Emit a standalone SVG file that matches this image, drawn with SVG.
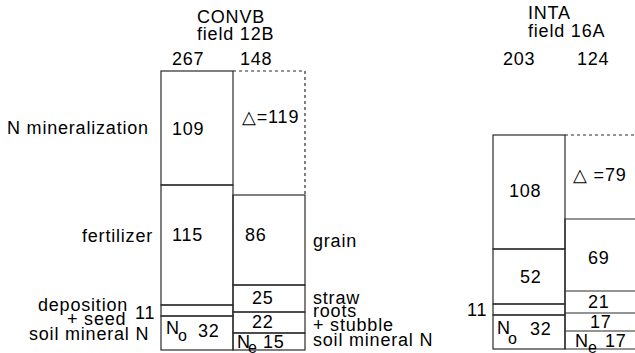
<svg xmlns="http://www.w3.org/2000/svg" width="635" height="353" viewBox="0 0 635 353">
<style>
text{font-family:"Liberation Sans",Arial,sans-serif;font-size:18px;letter-spacing:0.8px;fill:#000}
.sub{font-size:16px}
.box{fill:none;stroke:#2a2a2a;stroke-width:1.2}
.dash{fill:none;stroke:#2a2a2a;stroke-width:1.2;stroke-dasharray:3 3}
</style>
<rect width="635" height="353" fill="#fff"/>
<g id="labels-convb">
<text x="197" y="23">CONVB</text>
<text x="197" y="40">field 12B</text>
<text x="172" y="65">267</text>
<text x="240" y="65">148</text>
<text x="7" y="134">N mineralization</text>
<text x="82" y="242">fertilizer</text>
<text x="38" y="311">deposition</text>
<text x="67" y="325">+ seed</text>
<text x="29" y="340">soil mineral N</text>
<text x="135" y="319">11</text>
<text x="313" y="247">grain</text>
<text x="313" y="304">straw</text>
<text x="313" y="317">roots</text>
<text x="313" y="331">+ stubble</text>
<text x="313" y="346">soil mineral N</text>
</g>
<g id="convb-mineralization"><rect class="box" x="161" y="71" width="72" height="114"/><text x="172" y="135">109</text></g>
<g id="convb-fertilizer"><rect class="box" x="161" y="185" width="72" height="120"/><text x="172" y="241">115</text></g>
<g id="convb-deposition"><rect class="box" x="161" y="305" width="72" height="11"/></g>
<g id="convb-soilN0"><rect class="box" x="161" y="316" width="72" height="34"/><text x="166" y="334">N</text><text class="sub" x="178" y="341">o</text><text x="198" y="337">32</text></g>
<g id="convb-delta"><path class="dash" d="M233,71 H305 V195"/><text x="242" y="123">△=119</text></g>
<g id="convb-grain"><rect class="box" x="233" y="195" width="72" height="90"/><text x="245" y="241">86</text></g>
<g id="convb-straw"><rect class="box" x="233" y="285" width="72" height="27"/><text x="252" y="304">25</text></g>
<g id="convb-roots"><rect class="box" x="233" y="312" width="72" height="21"/><text x="252" y="328">22</text></g>
<g id="convb-soilNe"><rect class="box" x="233" y="333" width="72" height="17"/><text x="237" y="348">N</text><text class="sub" x="248" y="353">e</text><text x="263" y="348">15</text></g>
<g id="labels-inta">
<text x="528" y="19">INTA</text>
<text x="528" y="37">field 16A</text>
<text x="503" y="65">203</text>
<text x="577" y="65">124</text>
<text x="467" y="316">11</text>
</g>
<g id="inta-mineralization"><rect class="box" x="493" y="135" width="72" height="114"/><text x="509" y="197">108</text></g>
<g id="inta-fertilizer"><rect class="box" x="493" y="249" width="72" height="55"/><text x="520" y="283">52</text></g>
<g id="inta-deposition"><rect class="box" x="493" y="304" width="72" height="11"/></g>
<g id="inta-soilN0"><rect class="box" x="493" y="315" width="72" height="34"/><text x="497" y="334">N</text><text class="sub" x="508" y="344">o</text><text x="530" y="335">32</text></g>
<g id="inta-delta"><path class="dash" d="M565,135 H640"/><text x="573" y="181">△ =79</text></g>
<g id="inta-grain"><path class="box" d="M640,219 H565 V291 H640"/><text x="588" y="264">69</text></g>
<g id="inta-straw"><path class="box" d="M565,291 V313 H640"/><text x="588" y="308">21</text></g>
<g id="inta-roots"><path class="box" d="M565,313 V331 H640"/><text x="590" y="328">17</text></g>
<g id="inta-soilNe"><path class="box" d="M565,331 V349 H640"/><text x="575" y="347">N</text><text class="sub" x="588" y="353">e</text><text x="605" y="347">17</text></g>
<g id="connectors"/>
</svg>
